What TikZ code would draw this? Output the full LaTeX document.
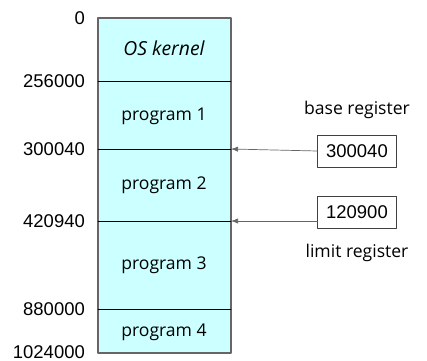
\documentclass[tikz,border=0pt]{standalone}
\usepackage{fontspec}
\setmainfont{Liberation Sans}
\newfontfamily\comicfont{Open Sans}
\usetikzlibrary{positioning}
\usetikzlibrary{arrows.meta}
\definecolor{memfill}{HTML}{CCFFFF}

\begin{document}
\begin{tikzpicture}[line cap=round,line join=round,x=0.02cm,y=-0.02cm,
	addr/.style={anchor=east,font=\fontsize{10.5}{12}\selectfont},
	seglabel/.style={font=\comicfont\fontsize{10}{12}\selectfont},
	regbox/.style={draw=black!75,minimum width=1.58cm,minimum height=0.64cm,inner sep=0pt,font=\fontsize{10.5}{12}\selectfont},
	reglabel/.style={font=\comicfont\fontsize{10}{12}\selectfont},
	ptr/.style={-{Latex[length=4pt,width=3pt]},draw=black!60}]
	
	\useasboundingbox (0,0) rectangle (427,361);
	
	% memory
	\draw [fill=memfill, draw=black!60, line width=0.8pt] (98,18) rectangle (231,353);
	\draw [line width=0.45pt] (98,81) -- (231,81);
	\draw [line width=0.45pt] (98,149) coordinate (l1a) -- (231,149) coordinate (l1);
	\draw [line width=0.45pt] (98,221) coordinate (l2a) -- (231,221) coordinate (l2);
	\draw [line width=0.45pt] (98,309) -- (231,309);
	
	\node [seglabel] (os) at (164,48) {\itshape\fontsize{11}{12}\selectfont OS kernel};
	\node [seglabel] (p1) at (164,116) {program 1};
	\node [seglabel] (p2) at (164,185) {program 2};
	\node [seglabel] (p3) at (164,265) {program 3};
	\node [seglabel] (p4) at (164,332) {program 4};
	
	% addresses
	\node [addr] (a0) at (91,18) {0};
	\node [addr] (a1) at (91,81) {256000};
	\node [addr] (a2) at (91,149) {300040};
	\node [addr] (a3) at (91,221) {420940};
	\node [addr] (a4) at (91,309) {880000};
	\node [addr] (a5) at (91,352) {1024000};
	
	% registers
	\node [regbox] (base) at (357,151) {300040};
	\node [reglabel, above=0.2cm of base] (basetxt) {base register};
	\node [regbox] (limit) at (357,212) {120900};
	\node [reglabel, below=0.2cm of limit] (limittxt) {limit register};
	
	\draw [ptr] (base.west) -- (l1);
	\draw [ptr] (limit.west |- l2) -- (l2);
\end{tikzpicture}
\end{document}
